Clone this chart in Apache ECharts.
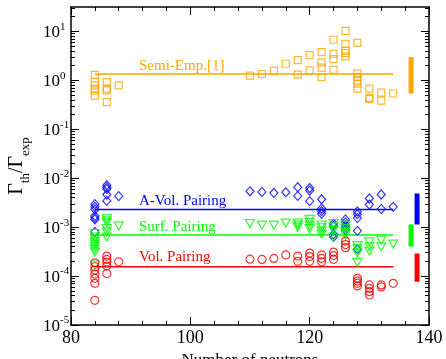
<!DOCTYPE html>
<html>
<head>
<meta charset="utf-8">
<script src="https://cdn.jsdelivr.net/npm/echarts@6/dist/echarts.min.js"></script>
<style>
  html, body { margin: 0; padding: 0; background: #fff; }
  #chart { width: 446px; height: 359px; }
</style>
</head>
<body>
<div id="chart"></div>
<script>
// [neutrons, Gamma_th / Gamma_exp]
var semiEmp = [
  [84, 1.3], [84, 0.92], [84, 0.79], [84, 0.67], [84, 0.62], [84, 0.49],
  [86, 0.92], [86, 0.68], [86, 0.625], [86, 0.36],
  [88, 0.79],
  [110, 1.25], [112, 1.35], [114, 1.58], [116, 2.19],
  [118, 2.6], [118, 1.31],
  [120, 3.28], [120, 1.6],
  [122, 3.79], [122, 2.33], [122, 1.82], [122, 1.17],
  [124, 6.77], [124, 3.5], [124, 2.72], [124, 1.65],
  [126, 10.3], [126, 5.6], [126, 4.0], [126, 3.6], [126, 3.1],
  [128, 5.87], [128, 1.37], [128, 1.17], [128, 1.0], [128, 0.86], [128, 0.68],
  [130, 0.68], [130, 0.44], [130, 0.42],
  [132, 0.56], [132, 0.385],
  [134, 0.54]
];
var aVolPairing = [
  [84, 2.95e-3], [84, 2.6e-3], [84, 2.3e-3], [84, 1.7e-3], [84, 1.55e-3], [84, 1.44e-3], [84, 8.0e-4],
  [86, 7.2e-3], [86, 6.5e-3], [86, 6.0e-3], [86, 4.65e-3], [86, 3.44e-3],
  [88, 4.3e-3],
  [110, 5.4e-3], [112, 5.26e-3], [114, 5.0e-3], [116, 5.18e-3],
  [118, 6.55e-3], [118, 4.35e-3],
  [120, 6.3e-3], [120, 5.6e-3], [120, 3.4e-3],
  [122, 3.72e-3], [122, 2.4e-3], [122, 2.12e-3], [122, 1.87e-3],
  [124, 1.17e-3], [124, 1.06e-3], [124, 7.1e-4], [124, 6.3e-4],
  [126, 1.44e-3], [126, 1.25e-3], [126, 1.1e-3], [126, 9.9e-4], [126, 8.8e-4],
  [128, 2.1e-3], [128, 1.84e-3], [128, 1.53e-3], [128, 8.4e-4], [128, 3.5e-4],
  [130, 3.85e-3], [130, 2.9e-3],
  [132, 4.65e-3], [132, 2.36e-3],
  [134, 2.6e-3]
];
var surfPairing = [
  [84, 7.4e-4], [84, 6.3e-4], [84, 5.7e-4], [84, 5.0e-4], [84, 4.5e-4], [84, 3.96e-4], [84, 3.5e-4], [84, 3.1e-4], [84, 1.67e-4],
  [86, 1.5e-3], [86, 1.35e-3], [86, 1.23e-3], [86, 9.4e-4], [86, 8.0e-4], [86, 6.3e-4],
  [88, 1.06e-3],
  [110, 1.19e-3], [112, 1.1e-3], [114, 1.1e-3], [116, 1.21e-3],
  [118, 1.21e-3], [118, 1.1e-3], [118, 1.0e-3],
  [120, 1.44e-3], [120, 1.25e-3], [120, 1.06e-3], [120, 9.4e-4],
  [122, 1.1e-3], [122, 9.7e-4], [122, 8.3e-4], [122, 7.2e-4],
  [124, 1.19e-3], [124, 1.0e-3], [124, 8.6e-4], [124, 6.3e-4],
  [126, 1.1e-3], [126, 9.2e-4], [126, 7.8e-4], [126, 6.9e-4],
  [128, 4.2e-4], [128, 3.6e-4], [128, 2.95e-4], [128, 1.9e-4],
  [130, 5.0e-4], [130, 3.96e-4], [130, 3.25e-4],
  [132, 5.4e-4], [132, 3.96e-4],
  [134, 4.5e-4]
];
var volPairing = [
  [84, 1.87e-4], [84, 1.55e-4], [84, 1.33e-4], [84, 1.1e-4], [84, 9.0e-5], [84, 7.1e-5], [84, 3.2e-5],
  [86, 2.56e-4], [86, 2.19e-4], [86, 1.93e-4], [86, 1.6e-4], [86, 1.13e-4],
  [88, 1.96e-4],
  [110, 2.22e-4], [112, 2.19e-4], [114, 2.3e-4], [116, 2.7e-4],
  [118, 2.56e-4], [118, 2.0e-4],
  [120, 2.95e-4], [120, 2.5e-4], [120, 2.0e-4],
  [122, 2.7e-4], [122, 2.3e-4], [122, 1.96e-4],
  [124, 3.1e-4], [124, 2.63e-4], [124, 2.2e-4],
  [126, 5.2e-4], [126, 4.4e-4], [126, 3.8e-4],
  [128, 9.0e-5], [128, 7.9e-5], [128, 7.1e-5], [128, 6.3e-5],
  [130, 6.6e-5], [130, 5.6e-5], [130, 4.8e-5], [130, 4.1e-5],
  [132, 6.6e-5], [132, 6.0e-5],
  [134, 7.1e-5]
];

// mean lines (level), drawn from N=84 to N=134
var lineSpan = [84, 134];
var levels = { semi: 1.35, aVol: 2.3e-3, surf: 6.9e-4, vol: 1.55e-4 };

// spread bars at the right: [neutron position, low, high]
var semiBar = [137, 0.54, 3.0];
var aVolBar = [138, 1.13e-3, 4.9e-3];
var surfBar = [137, 4.0e-4, 1.13e-3];
var volBar = [138, 7.7e-5, 2.9e-4];

var seriesNames = ['Semi-Emp.[1]', 'A-Vol. Pairing', 'Surf. Pairing', 'Vol. Pairing'];
var decades = [-5, -4, -3, -2, -1, 0, 1];

var ORANGE = '#FFA500', BLUE = '#0000FF', GREEN = '#00FF00', RED = '#FF0000';
var FONT = '"Liberation Serif", "DejaVu Serif", serif';

function lg(pts) {
  return pts.map(function (p) { return [p[0], Math.log10(p[1])]; });
}

// log-style minor ticks 2..9 in each decade
var minorTicks = [];
decades.forEach(function (n) {
  for (var k = 2; k <= 9; k++) {
    var v = n + Math.log10(k);
    if (v < 1.5) minorTicks.push(v);
  }
});

var chart = echarts.init(document.getElementById('chart'), null, { renderer: 'canvas' });

function scatter(name, data, symbol, color, size, rotate) {
  return {
    name: name, type: 'scatter', data: lg(data),
    symbol: symbol, symbolSize: size, symbolRotate: rotate || 0,
    itemStyle: { color: 'rgba(0,0,0,0)', borderColor: color, borderWidth: 1.2 },
    z: 3
  };
}

function level(name, val, color, labelPos) {
  return {
    type: 'line', data: lg([[lineSpan[0], val], [lineSpan[1], val]]),
    symbol: 'none', lineStyle: { color: color, width: 1.5 }, silent: true, z: 2,
    markPoint: {
      symbol: 'circle', symbolSize: 0, silent: true,
      data: [{ coord: labelPos }],
      label: {
        show: true, position: 'right', distance: 0, formatter: name,
        color: color, fontFamily: FONT, fontSize: 15
      }
    }
  };
}

function bar(b, color) {
  return {
    type: 'line', data: lg([[b[0], b[1]], [b[0], b[2]]]),
    symbol: 'none', lineStyle: { color: color, width: 5, cap: 'butt' }, silent: true, z: 2
  };
}

var axisLineStyle = { lineStyle: { color: '#000', width: 1.5 } };

function yAx(pos, ticks, len, main) {
  return {
    type: 'value', position: pos, min: -5, max: 1.5,
    axisLine: { show: !!main, onZero: false, lineStyle: axisLineStyle.lineStyle },
    axisTick: { show: true, inside: true, length: len, customValues: ticks, lineStyle: { color: '#000', width: 1 } },
    splitLine: { show: false },
    axisLabel: { show: false }
  };
}

var yMain = yAx('left', decades, 8, true);
yMain.axisLabel = {
  show: true, customValues: decades, margin: 28, align: 'left',
  formatter: function (v) { return '{b|10}{s|' + v + '}'; },
  rich: {
    b: { fontFamily: FONT, fontSize: 17, color: '#000', lineHeight: 20, verticalAlign: 'bottom' },
    s: { fontFamily: FONT, fontSize: 11, color: '#000', lineHeight: 20, verticalAlign: 'bottom', padding: [0, 0, 9, 0] }
  }
};
yMain.name = '{g|Γ}{u|th}{g|/Γ}{u|exp}';
yMain.nameLocation = 'middle';
yMain.nameGap = 36;
yMain.nameRotate = 90;
yMain.nameTextStyle = {
  rich: {
    g: { fontFamily: FONT, fontSize: 20, color: '#000', lineHeight: 24, verticalAlign: 'bottom' },
    u: { fontFamily: FONT, fontSize: 13, color: '#000', lineHeight: 24, verticalAlign: 'bottom', padding: [0, 0, -5, 0] }
  }
};

function xAx(pos, main) {
  return {
    type: 'value', position: pos, min: 80, max: 140, interval: 20,
    axisLine: { show: true, onZero: false, lineStyle: axisLineStyle.lineStyle },
    axisTick: { show: true, inside: true, length: 8, lineStyle: { color: '#000', width: 1 } },
    minorTick: { show: true, splitNumber: 5, length: 4, lineStyle: { color: '#000', width: 1 } },
    splitLine: { show: false },
    axisLabel: main ? { show: true, margin: 4, color: '#000', fontFamily: FONT, fontSize: 18 } : { show: false }
  };
}

var xMain = xAx('bottom', true);
xMain.name = 'Number of neutrons';
xMain.nameLocation = 'middle';
xMain.nameGap = 24;
xMain.nameTextStyle = { color: '#000', fontFamily: FONT, fontSize: 17 };

var option = {
  backgroundColor: '#fff',
  animation: false,
  grid: { left: 71, right: 17, top: 7, bottom: 34, outerBoundsMode: 'none', containLabel: false },
  xAxis: [xMain, xAx('top', false)],
  yAxis: [
    yMain,
    yAx('left', minorTicks, 4, false),
    yAx('right', decades, 8, true),
    yAx('right', minorTicks, 4, false)
  ],
  series: [
    level(seriesNames[0], levels.semi, ORANGE, [91.4, 0.29]),
    level(seriesNames[1], levels.aVol, BLUE, [91.4, -2.47]),
    level(seriesNames[2], levels.surf, GREEN, [91.4, -3.0]),
    level(seriesNames[3], levels.vol, RED, [91.4, -3.61]),
    bar(semiBar, ORANGE),
    bar(aVolBar, BLUE),
    bar(surfBar, GREEN),
    bar(volBar, RED),
    scatter(seriesNames[0], semiEmp, 'rect', ORANGE, 7),
    scatter(seriesNames[1], aVolPairing, 'diamond', BLUE, [8, 9]),
    scatter(seriesNames[2], surfPairing, 'triangle', GREEN, [9, 8], 180),
    scatter(seriesNames[3], volPairing, 'circle', RED, 8)
  ]
};

chart.setOption(option);
</script>
</body>
</html>
